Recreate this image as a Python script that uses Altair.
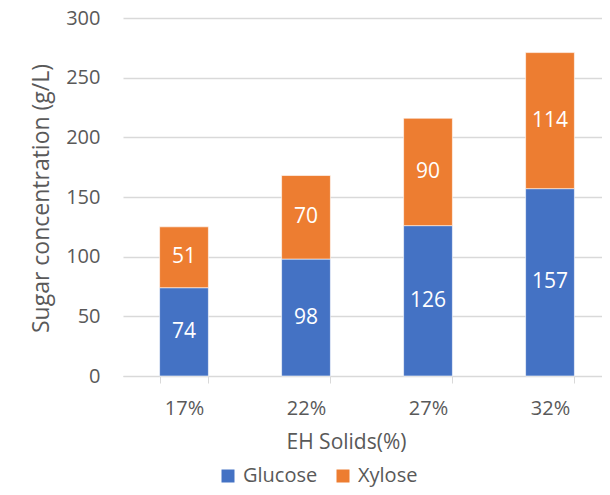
import altair as alt
import pandas as pd

categories = ["17%", "22%", "27%", "32%"]
glucose = [74, 98, 126, 157]
xylose = [51, 70, 90, 114]
series = ["Glucose", "Xylose"]
colors = ["#4472C4", "#ED7D31"]

rows = []
for c, g, x in zip(categories, glucose, xylose):
    rows.append({"cat": c, "sugar": "Glucose", "value": g})
    rows.append({"cat": c, "sugar": "Xylose", "value": x})
df = pd.DataFrame(rows)

FONT = "Open Sans"
GREY = "#595959"

xenc = alt.X(
    "cat:N",
    sort=categories,
    scale=alt.Scale(paddingInner=0.6, paddingOuter=0.3, range=[0, 488]),
    axis=alt.Axis(
        title="EH Solids(%)",
        titleFontSize=21,
        titleFont=FONT,
        titleFontWeight="normal",
        titleColor=GREY,
        titleX=223,
        titleY=72,
        titleAlign="center",
        titleBaseline="alphabetic",
        labelFontSize=20,
        labelFont=FONT,
        labelColor=GREY,
        labelAngle=0,
        labelPadding=15,
        tickBand="extent",
        tickSize=7,
        tickColor="#d9d9d9",
        domainColor="#d9d9d9",
        grid=False,
    ),
)

bars = alt.Chart(df).mark_bar(stroke="white", strokeWidth=0.6).encode(
    x=xenc,
    y=alt.Y(
        "value:Q",
        stack="zero",
        scale=alt.Scale(domain=[0, 300], nice=False),
        axis=alt.Axis(
            title="Sugar concentration (g/L)",
            titleFontSize=23,
            titleFont=FONT,
            titleFontWeight="normal",
            titleColor=GREY,
            titleX=-82,
            titleY=180,
            titleAlign="center",
            titleBaseline="middle",
            values=[0, 50, 100, 150, 200, 250, 300],
            labelFontSize=20,
            labelFont=FONT,
            labelColor=GREY,
            labelPadding=23,
            ticks=False,
            domain=False,
            gridColor="#d9d9d9",
            gridWidth=1.3,
        ),
    ),
    color=alt.Color(
        "sugar:N",
        scale=alt.Scale(domain=series, range=colors),
        legend=alt.Legend(
            title=None,
            orient="none",
            direction="horizontal",
            legendX=95,
            legendY=448,
            symbolType="square",
            symbolSize=169,
            symbolStrokeWidth=0,
            labelFontSize=20,
            labelFont=FONT,
            labelColor=GREY,
            labelOffset=5,
            columnPadding=15,
        ),
    ),
    order=alt.Order("sugar:N"),
)

labels = alt.Chart(df).transform_stack(
    stack="value", groupby=["cat"], as_=["v0", "v1"], sort=[alt.SortField("sugar")]
).transform_calculate(
    mid="(datum.v0 + datum.v1) / 2"
).mark_text(color="white", fontSize=21, font=FONT, baseline="middle").encode(
    x=alt.X("cat:N", sort=categories),
    y=alt.Y("mid:Q"),
    text=alt.Text("value:Q"),
)

chart = (
    alt.layer(bars, labels)
    .properties(
        width=479,
        height=358,
        autosize=alt.AutoSizeParams(type="none"),
        padding={"left": 115, "top": 10, "right": 0, "bottom": 111},
    )
    .configure_view(stroke=None)
)

chart.save("out.html", embed_options={"renderer": "svg", "actions": False})
